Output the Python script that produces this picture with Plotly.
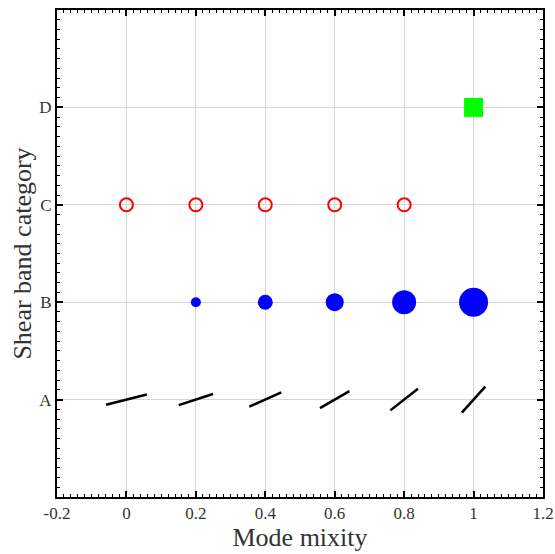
import numpy as np
import plotly.graph_objects as go

# ---- data ----
categories = ["A", "B", "C", "D"]
cat_pos = [1, 2, 3, 4]

# Category A: shear band orientation segments
a_x = [0.0, 0.2, 0.4, 0.6, 0.8, 1.0]
a_angle_deg = [14, 18, 24, 30, 38, 48]
a_len_px = [42, 36, 35, 34, 35, 35]

# Category B: filled blue circles
b_x = [0.2, 0.4, 0.6, 0.8, 1.0]
b_size = [10, 15, 18, 24, 29]

# Category C: open red circles
c_x = [0.0, 0.2, 0.4, 0.6, 0.8]

# Category D: green square
d_x = [1.0]

x_ticks = [-0.2, 0, 0.2, 0.4, 0.6, 0.8, 1, 1.2]
x_ticktext = ["-0.2", "0", "0.2", "0.4", "0.6", "0.8", "1", "1.2"]

# ---- layout geometry ----
W, H = 555, 554
ml, mr, mt, mb = 57, 12, 10, 57
xr = [-0.2, 1.2]
yr = [0, 5]
pw = W - ml - mr
ph = H - mt - mb
sx = pw / (xr[1] - xr[0])   # px per x unit
sy = ph / (yr[1] - yr[0])   # px per y unit

seg_x, seg_y = [], []
for x0, ang, L in zip(a_x, a_angle_deg, a_len_px):
    t = np.radians(ang)
    dx = (L / 2) * np.cos(t) / sx
    dy = (L / 2) * np.sin(t) / sy
    seg_x += [x0 - dx, x0 + dx, None]
    seg_y += [1 - dy, 1 + dy, None]

fig = go.Figure()
fig.add_trace(go.Scatter(x=seg_x, y=seg_y, mode="lines",
                         line=dict(color="black", width=2.5), showlegend=False))
fig.add_trace(go.Scatter(x=b_x, y=[2] * len(b_x), mode="markers",
                         marker=dict(color="#0000ff", size=b_size, opacity=1,
                                     line=dict(width=0)),
                         showlegend=False))
fig.add_trace(go.Scatter(x=c_x, y=[3] * len(c_x), mode="markers",
                         marker=dict(symbol="circle-open", color="#ff0000", size=13, opacity=1,
                                     line=dict(width=2, color="#ff0000")),
                         showlegend=False))
fig.add_trace(go.Scatter(x=d_x, y=[4] * len(d_x), mode="markers",
                         marker=dict(symbol="square", color="#00ff00", size=19, opacity=1,
                                     line=dict(width=0)),
                         showlegend=False))

font_family = "Liberation Serif"
txt_color = "#333333"
axis_common = dict(
    showgrid=True, gridcolor="#d6d6d6", gridwidth=1.4, zeroline=False,
    showline=True, linecolor="black", linewidth=2, mirror="ticks",
    ticks="inside", ticklen=6, tickwidth=1.5, tickcolor="black",
    tickfont=dict(size=17, family=font_family, color=txt_color),
    automargin=False,
)
fig.update_layout(
    width=W, height=H,
    margin=dict(l=ml, r=mr, t=mt, b=mb, pad=0),
    paper_bgcolor="white", plot_bgcolor="white",
    font=dict(family=font_family, color=txt_color),
    xaxis=dict(
        range=xr, tickmode="array", tickvals=x_ticks, ticktext=x_ticktext,
        minor=dict(tickmode="linear", dtick=0.02, tick0=0, ticks="inside", ticklen=3,
                   tickwidth=1.2, tickcolor="black", showgrid=False),
        title=dict(text="Mode mixity", font=dict(size=26, family=font_family, color=txt_color),
                   standoff=2),
        **axis_common,
    ),
    yaxis=dict(
        range=yr, tickmode="array", tickvals=cat_pos, ticktext=categories,
        minor=dict(tickmode="linear", dtick=0.1, tick0=0, ticks="inside", ticklen=3,
                   tickwidth=1.2, tickcolor="black", showgrid=False),
        title=dict(text="Shear band category", font=dict(size=26, family=font_family, color=txt_color),
                   standoff=0),
        **axis_common,
    ),
)

fig.write_html("out.html")
